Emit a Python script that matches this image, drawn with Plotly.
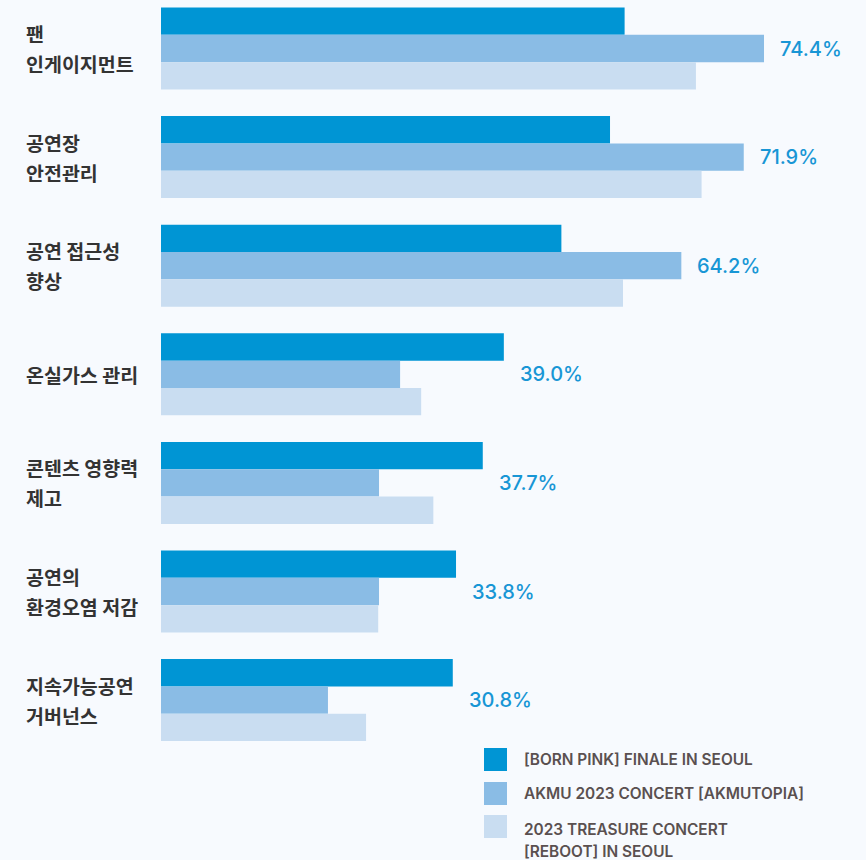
import plotly.graph_objects as go

# Categories (top to bottom); "<br>" marks the line break of the row label
categories = [
    "팬<br>인게이지먼트",
    "공연장<br>안전관리",
    "공연 접근성<br>향상",
    "온실가스 관리",
    "콘텐츠 영향력<br>제고",
    "공연의<br>환경오염 저감",
    "지속가능공연<br>거버넌스",
]

series_names = [
    "[BORN PINK] FINALE IN SEOUL",
    "AKMU 2023 CONCERT [AKMUTOPIA]",
    "2023 TREASURE CONCERT<br>[REBOOT] IN SEOUL",
]

born_pink = [57.2, 55.4, 49.4, 42.3, 39.7, 36.4, 36.0]
akmu = [74.4, 71.9, 64.2, 29.5, 26.9, 26.9, 20.6]
treasure = [66.0, 66.7, 57.0, 32.1, 33.6, 26.8, 25.3]

# Highlighted figure shown to the right of each group
highlight = [74.4, 71.9, 64.2, 39.0, 37.7, 33.8, 30.8]

colors = ["#0095d4", "#8abce5", "#c9ddf1"]
bg = "#f7fafe"

W, H = 866, 860
ML = 161

fig = go.Figure()
for name, vals, col in zip(series_names, [born_pink, akmu, treasure], colors):
    fig.add_bar(
        y=categories, x=vals, orientation="h", name=name,
        marker=dict(color=col, line=dict(width=0)),
        hoverinfo="x+name",
    )

annotations = []
# Row labels on the left
for cat in categories:
    lines = cat.split("<br>")
    n = len(lines)
    for i, line in enumerate(lines):
        shift = (-(i - (n - 1) / 2)) * 30
        annotations.append(dict(
            x=-(ML - 24) / (W - ML), xref="paper", xanchor="left",
            y=cat, yref="y", yanchor="middle", yshift=shift,
            text=line, showarrow=False,
            font=dict(family="Noto Sans CJK KR", size=19.5, color="#333333", weight=700),
        ))

# Highlight values after the longest bar of each group
for cat, v, a, b, c in zip(categories, highlight, born_pink, akmu, treasure):
    annotations.append(dict(
        x=max(a, b, c), xref="x", xanchor="left", xshift=14,
        y=cat, yref="y", yanchor="middle",
        text=f"{v:.1f}%", showarrow=False,
        font=dict(family="Inter", size=20, color="#1896d5", weight=500),
    ))

# Legend drawn as swatches with text, bottom right
shapes = []
legend_rows = [(748, [759]), (782, [793]), (815, [829, 851])]
for (top, text_ys), name, col in zip(legend_rows, series_names, colors):
    shapes.append(dict(
        type="rect", xref="paper", yref="paper",
        x0=(484 - ML) / (W - ML), x1=(507 - ML) / (W - ML),
        y0=1 - (top + 23) / H, y1=1 - top / H,
        fillcolor=col, line=dict(width=0),
    ))
    for ty, line in zip(text_ys, name.split("<br>")):
        annotations.append(dict(
            x=(522 - ML) / (W - ML), xref="paper", xanchor="left",
            y=1 - ty / H, yref="paper", yanchor="middle",
            text=line, showarrow=False,
            font=dict(family="Inter", size=15.4, color="#5a5050", weight=600),
        ))

pitch = 108.6
top_c = 48.5
fig.update_layout(
    width=W, height=H,
    margin=dict(l=ML, r=0, t=0, b=0, pad=0),
    paper_bgcolor=bg, plot_bgcolor=bg,
    barmode="group", bargap=0.245, bargroupgap=0,
    showlegend=False,
    xaxis=dict(range=[0, (W - ML) / 8.105], visible=False, fixedrange=True),
    yaxis=dict(
        type="category", categoryorder="array", categoryarray=categories,
        range=[(H - top_c) / pitch, -top_c / pitch],
        showticklabels=False, showgrid=False, zeroline=False, showline=False,
        fixedrange=True,
    ),
    annotations=annotations,
    shapes=shapes,
)

fig.write_html("out.html", config={"displayModeBar": False})
